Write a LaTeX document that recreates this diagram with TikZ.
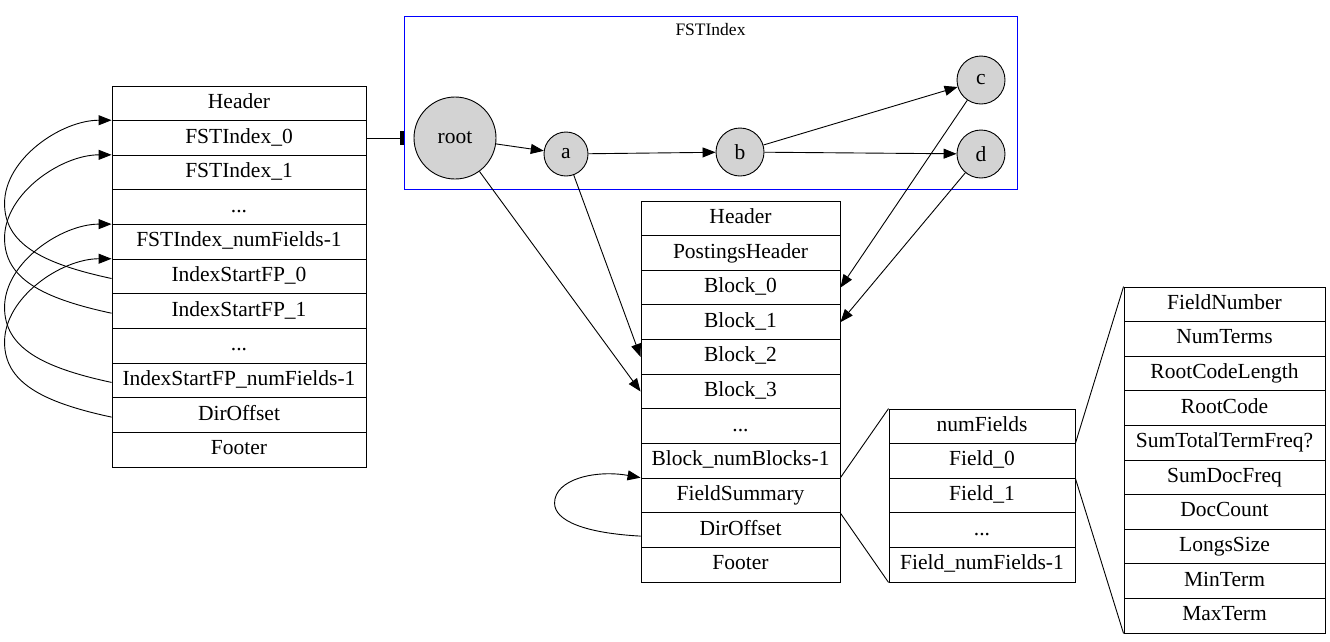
\documentclass[tikz,border=0pt]{standalone}
\usepackage{fontspec}
\setmainfont{Liberation Serif}
\usetikzlibrary{arrows.meta,calc}
\begin{document}
\begin{tikzpicture}[x=1pt,y=-1pt,
  every node/.style={font=\fontsize{21.5}{25}\selectfont, inner sep=0pt},
  cell/.style={draw, line width=0.9pt, text height=14.5pt, text depth=4.5pt},
  recL/.style={cell, minimum width=254pt, minimum height=34.64pt},
  recM/.style={cell, minimum width=199pt, minimum height=34.64pt},
  recF/.style={cell, minimum width=186pt, minimum height=34.6pt},
  recR/.style={cell, minimum width=201pt, minimum height=34.6pt},
  st/.style={draw, circle, fill={rgb,255:red,211;green,211;blue,211}, line width=0.9pt},
  arr/.style={-{Triangle[length=13pt,width=10pt]}, line width=0.9pt},
  ln/.style={line width=0.9pt}]
\useasboundingbox (0,0) rectangle (1330,641);

% cluster
\node[draw={rgb,255:red,0;green,0;blue,255}, line width=0.9pt, minimum width=613pt, minimum height=173pt] (clu) at (710.5,102.5) {};
\node[font=\fontsize{17.5}{20}\selectfont] (clulab) at (710.5,30) {FSTIndex};

% left record
\node[recL] (L1) at (239,103.3) {Header};
\node[recL] (L2) at (239,138.0) {FSTIndex\_0};
\node[recL] (L3) at (239,172.6) {FSTIndex\_1};
\node[recL] (L4) at (239,207.2) {...};
\node[recL] (L5) at (239,241.9) {FSTIndex\_numFields-1};
\node[recL] (L6) at (239,276.5) {IndexStartFP\_0};
\node[recL] (L7) at (239,311.2) {IndexStartFP\_1};
\node[recL] (L8) at (239,345.8) {...};
\node[recL] (L9) at (239,380.4) {IndexStartFP\_numFields-1};
\node[recL] (L10) at (239,415.1) {DirOffset};
\node[recL] (L11) at (239,449.7) {Footer};

% middle record
\node[recM] (M1) at (740.5,218.3) {Header};
\node[recM] (M2) at (740.5,253.0) {PostingsHeader};
\node[recM] (M3) at (740.5,287.6) {Block\_0};
\node[recM] (M4) at (740.5,322.2) {Block\_1};
\node[recM] (M5) at (740.5,356.9) {Block\_2};
\node[recM] (M6) at (740.5,391.5) {Block\_3};
\node[recM] (M7) at (740.5,426.2) {...};
\node[recM] (M8) at (740.5,460.8) {Block\_numBlocks-1};
\node[recM] (M9) at (740.5,495.4) {FieldSummary};
\node[recM] (M10) at (740.5,530.1) {DirOffset};
\node[recM] (M11) at (740.5,564.7) {Footer};

% fields record
\node[recF] (F1) at (982,426.3) {numFields};
\node[recF] (F2) at (982,460.9) {Field\_0};
\node[recF] (F3) at (982,495.5) {Field\_1};
\node[recF] (F4) at (982,530.1) {...};
\node[recF] (F5) at (982,564.7) {Field\_numFields-1};

% right record
\node[recR] (R1) at (1224.5,304.3) {FieldNumber};
\node[recR] (R2) at (1224.5,338.9) {NumTerms};
\node[recR] (R3) at (1224.5,373.5) {RootCodeLength};
\node[recR] (R4) at (1224.5,408.1) {RootCode};
\node[recR] (R5) at (1224.5,442.7) {SumTotalTermFreq?};
\node[recR] (R6) at (1224.5,477.3) {SumDocFreq};
\node[recR] (R7) at (1224.5,511.9) {DocCount};
\node[recR] (R8) at (1224.5,546.5) {LongsSize};
\node[recR] (R9) at (1224.5,581.1) {MinTerm};
\node[recR] (R10) at (1224.5,615.7) {MaxTerm};

% FST states
\node[st, minimum size=82pt] (root) at (455,138) {root};
\node[st, minimum size=44pt] (a) at (566,154) {a};
\node[st, minimum size=48pt] (b) at (740,152) {b};
\node[st, minimum size=48pt] (c) at (981,80) {c};
\node[st, minimum size=48pt] (d) at (981,154) {d};

% edges
\draw[ln, -{Rectangle[length=4pt,width=14pt]}] (L2.east) -- (clu.west |- L2.east);
\draw[arr] (root) -- (a);
\draw[arr] (a) -- (b);
\draw[arr] (b) -- (c);
\draw[arr] (b) -- (d);
\draw[arr] (root) -- (M6.west);
\draw[arr] (a) -- (M5.west);
\draw[arr] (c) -- (M3.east);
\draw[arr] (d) -- (M4.east);

\draw[ln] (M9.north east) -- (F1.north west);
\draw[ln] (M9.south east) -- (F5.south west);
\draw[ln] (F2.north east) -- (R1.north west);
\draw[ln] (F2.south east) -- (R10.south west);

% left loops
\draw[arr] ($(L6.west)+(0,2)$) .. controls +(-70,-15) and +(0,40) .. ++(-107,-75) .. controls +(0,-45) and +(-50,0) .. (L2.north west);
\draw[arr] ($(L7.west)+(0,2)$) .. controls +(-70,-15) and +(0,40) .. ++(-107,-75) .. controls +(0,-45) and +(-50,0) .. (L3.north west);
\draw[arr] ($(L9.west)+(0,2)$) .. controls +(-70,-15) and +(0,40) .. ++(-107,-75) .. controls +(0,-45) and +(-50,0) .. (L5.north west);
\draw[arr] ($(L10.west)+(0,2)$) .. controls +(-70,-15) and +(0,40) .. ++(-107,-75) .. controls +(0,-45) and +(-50,0) .. (L6.north west);

% self loop
\draw[arr] ($(M10.west)+(0,6)$) .. controls +(-55,-3) and +(0,18) .. ++(-86,-33) .. controls +(0,-24) and +(-45,-8) .. (M9.north west);
\end{tikzpicture}
\end{document}
